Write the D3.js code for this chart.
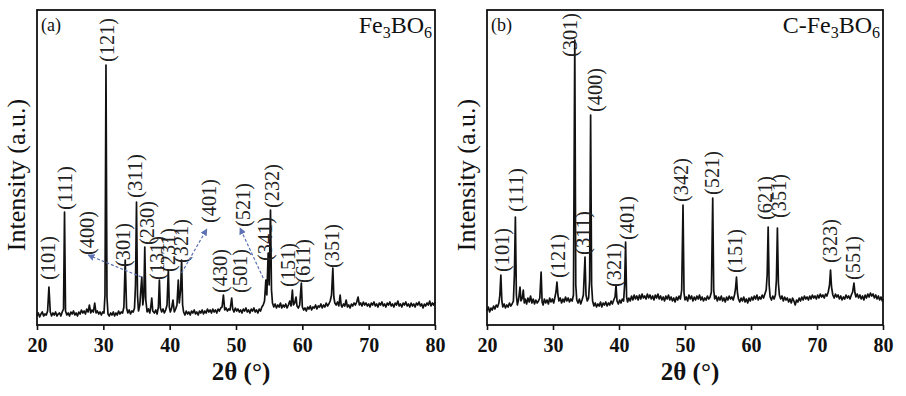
<!DOCTYPE html>
<html>
<head>
<meta charset="utf-8">
<script src="https://cdn.jsdelivr.net/npm/d3@7"></script>
<style>
    body { margin: 0; background: #fff; }
    svg text { font-family: "Liberation Serif", "Times New Roman", serif; }
</style>
</head>
<body>
<div id="chart"></div>
<script>

// XRD pattern, [2theta, intensity]
var fe3bo6 = [
    [20.0, 9], [20.2, 12], [20.4, 8], [20.6, 11], [20.8, 13], [21.0, 9], [21.2, 11], [21.4, 10], [21.6, 14], [21.8, 38],
    [22.0, 13], [22.2, 9], [22.4, 12], [22.6, 10], [22.8, 13], [23.0, 9], [23.2, 11], [23.4, 12], [23.6, 9], [23.8, 13],
    [24.0, 16], [24.15, 113], [24.3, 14], [24.5, 10], [24.7, 12], [24.9, 9], [25.1, 13], [25.3, 11], [25.5, 14], [25.7, 10],
    [25.9, 12], [26.1, 9], [26.3, 13], [26.5, 11], [26.7, 15], [26.9, 12], [27.1, 14], [27.3, 11], [27.5, 16], [27.7, 13],
    [27.9, 20], [28.1, 12], [28.3, 15], [28.5, 13], [28.7, 22], [28.9, 12], [29.1, 14], [29.3, 11], [29.5, 13], [29.7, 10],
    [29.9, 13], [30.1, 12], [30.25, 30], [30.4, 260], [30.55, 28], [30.7, 11], [30.9, 9], [31.1, 12], [31.3, 10], [31.5, 13],
    [31.7, 9], [31.9, 12], [32.1, 10], [32.3, 14], [32.5, 11], [32.7, 13], [32.9, 12], [33.1, 18], [33.3, 65], [33.5, 17],
    [33.7, 12], [33.9, 15], [34.1, 11], [34.3, 14], [34.5, 13], [34.7, 17], [34.85, 40], [35.0, 123], [35.15, 30], [35.3, 14],
    [35.5, 20], [35.65, 35], [35.8, 48], [35.95, 20], [36.1, 28], [36.25, 78], [36.4, 25], [36.6, 13], [36.8, 16], [37.0, 12],
    [37.15, 18], [37.3, 27], [37.45, 14], [37.7, 12], [37.9, 15], [38.1, 11], [38.3, 18], [38.45, 45], [38.6, 17], [38.8, 13],
    [39.0, 16], [39.2, 12], [39.4, 15], [39.6, 20], [39.8, 55], [39.95, 18], [40.1, 13], [40.3, 17], [40.5, 25], [40.7, 13],
    [40.9, 16], [41.1, 20], [41.3, 45], [41.45, 22], [41.65, 35], [41.8, 65], [41.95, 20], [42.1, 13], [42.3, 10], [42.5, 14],
    [42.7, 11], [42.9, 13], [43.1, 10], [43.3, 14], [43.5, 12], [43.7, 15], [43.9, 11], [44.1, 13], [44.3, 10], [44.5, 14],
    [44.7, 12], [44.9, 15], [45.1, 11], [45.3, 14], [45.5, 12], [45.7, 16], [45.9, 13], [46.1, 15], [46.3, 12], [46.5, 16],
    [46.7, 13], [46.9, 15], [47.1, 12], [47.3, 16], [47.5, 14], [47.7, 17], [47.9, 18], [48.1, 30], [48.3, 15], [48.5, 17],
    [48.7, 14], [48.9, 16], [49.1, 15], [49.35, 27], [49.5, 16], [49.7, 13], [49.9, 17], [50.1, 14], [50.3, 16], [50.5, 13],
    [50.7, 15], [50.9, 12], [51.1, 16], [51.3, 14], [51.5, 17], [51.7, 13], [51.9, 15], [52.1, 12], [52.3, 16], [52.5, 14],
    [52.7, 17], [52.9, 13], [53.1, 15], [53.3, 12], [53.5, 16], [53.7, 14], [53.9, 18], [54.1, 20], [54.3, 24], [54.5, 45],
    [54.65, 30], [54.85, 72], [55.0, 40], [55.2, 115], [55.35, 35], [55.5, 22], [55.7, 18], [55.9, 21], [56.1, 17], [56.3, 20],
    [56.5, 18], [56.7, 22], [56.9, 17], [57.1, 20], [57.3, 18], [57.5, 21], [57.7, 17], [57.9, 20], [58.1, 24], [58.3, 19],
    [58.5, 35], [58.65, 20], [58.85, 22], [59.05, 28], [59.2, 19], [59.4, 17], [59.6, 20], [59.85, 42], [60.0, 18], [60.2, 15],
    [60.4, 17], [60.6, 14], [60.8, 18], [61.0, 16], [61.2, 19], [61.4, 15], [61.6, 18], [61.8, 17], [62.0, 20], [62.2, 16],
    [62.4, 19], [62.6, 18], [62.8, 21], [63.0, 17], [63.2, 20], [63.4, 18], [63.6, 22], [63.8, 19], [64.0, 21], [64.2, 24],
    [64.4, 30], [64.6, 57], [64.75, 28], [64.9, 22], [65.1, 20], [65.3, 23], [65.5, 19], [65.7, 30], [65.85, 20], [66.0, 18],
    [66.2, 21], [66.4, 19], [66.6, 25], [66.8, 18], [67.0, 20], [67.2, 17], [67.4, 21], [67.6, 19], [67.8, 22], [68.0, 20],
    [68.2, 23], [68.4, 28], [68.6, 20], [68.8, 22], [69.0, 19], [69.2, 23], [69.4, 20], [69.6, 22], [69.8, 19], [70.0, 21],
    [70.2, 18], [70.4, 22], [70.6, 20], [70.8, 23], [71.0, 19], [71.2, 21], [71.4, 18], [71.6, 22], [71.8, 20], [72.0, 23],
    [72.2, 19], [72.4, 21], [72.6, 18], [72.8, 22], [73.0, 20], [73.2, 23], [73.4, 19], [73.6, 21], [73.8, 18], [74.0, 22],
    [74.2, 20], [74.4, 24], [74.6, 19], [74.8, 21], [75.0, 18], [75.2, 22], [75.4, 20], [75.6, 23], [75.8, 19], [76.0, 21],
    [76.2, 18], [76.4, 22], [76.6, 19], [76.8, 21], [77.0, 18], [77.2, 22], [77.4, 20], [77.6, 23], [77.8, 19], [78.0, 21],
    [78.2, 17], [78.4, 21], [78.6, 19], [78.8, 22], [79.0, 20], [79.2, 24], [79.4, 19], [79.6, 22], [79.8, 20], [80.0, 23]
];

var cfe3bo6 = [
    [20.0, 14], [20.2, 18], [20.4, 13], [20.6, 17], [20.8, 15], [21.0, 19], [21.2, 16], [21.4, 20], [21.6, 18], [21.8, 22],
    [21.95, 30], [22.1, 50], [22.25, 24], [22.4, 18], [22.6, 21], [22.8, 17], [23.0, 20], [23.2, 18], [23.4, 22], [23.6, 19],
    [23.8, 21], [24.0, 24], [24.15, 50], [24.3, 108], [24.45, 30], [24.6, 20], [24.8, 26], [25.0, 38], [25.15, 24], [25.35, 27],
    [25.5, 35], [25.65, 22], [25.8, 26], [26.0, 21], [26.2, 27], [26.4, 23], [26.6, 29], [26.8, 22], [27.0, 26], [27.2, 21],
    [27.4, 25], [27.6, 22], [27.8, 24], [28.0, 27], [28.2, 53], [28.35, 23], [28.5, 20], [28.7, 26], [28.9, 22], [29.1, 25],
    [29.3, 21], [29.5, 27], [29.7, 23], [29.9, 26], [30.1, 22], [30.3, 28], [30.45, 33], [30.6, 43], [30.75, 30], [30.9, 24],
    [31.1, 27], [31.3, 22], [31.5, 26], [31.7, 23], [31.9, 28], [32.1, 24], [32.3, 27], [32.5, 23], [32.7, 26], [32.9, 24],
    [33.1, 30], [33.3, 285], [33.45, 40], [33.6, 25], [33.8, 22], [34.0, 26], [34.2, 21], [34.4, 25], [34.6, 30], [34.85, 68],
    [35.0, 30], [35.2, 24], [35.4, 27], [35.55, 45], [35.7, 210], [35.85, 40], [36.0, 24], [36.2, 19], [36.4, 22], [36.6, 18],
    [36.8, 21], [37.0, 19], [37.2, 23], [37.4, 18], [37.6, 22], [37.8, 20], [38.0, 23], [38.2, 19], [38.4, 22], [38.6, 20],
    [38.8, 24], [39.0, 21], [39.2, 25], [39.4, 28], [39.55, 40], [39.7, 24], [39.9, 21], [40.1, 25], [40.3, 22], [40.5, 26],
    [40.7, 24], [40.85, 40], [41.0, 83], [41.15, 28], [41.3, 23], [41.5, 27], [41.7, 24], [41.9, 29], [42.1, 25], [42.3, 30],
    [42.5, 26], [42.7, 29], [42.9, 25], [43.1, 30], [43.3, 26], [43.5, 31], [43.7, 27], [43.9, 29], [44.1, 26], [44.3, 31],
    [44.5, 27], [44.7, 30], [44.9, 26], [45.1, 29], [45.3, 25], [45.5, 30], [45.7, 27], [45.9, 31], [46.1, 26], [46.3, 29],
    [46.5, 25], [46.7, 28], [46.9, 24], [47.1, 29], [47.3, 26], [47.5, 30], [47.7, 25], [47.9, 28], [48.1, 24], [48.3, 27],
    [48.5, 23], [48.7, 28], [48.9, 25], [49.1, 29], [49.3, 26], [49.5, 35], [49.7, 120], [49.85, 32], [50.0, 25], [50.2, 28],
    [50.4, 24], [50.6, 30], [50.8, 26], [51.0, 29], [51.2, 24], [51.4, 28], [51.6, 25], [51.8, 29], [52.0, 26], [52.2, 30],
    [52.4, 25], [52.6, 28], [52.8, 24], [53.0, 27], [53.2, 25], [53.4, 29], [53.6, 26], [53.8, 28], [54.0, 33], [54.2, 127],
    [54.35, 35], [54.5, 26], [54.7, 29], [54.9, 24], [55.1, 28], [55.3, 25], [55.5, 29], [55.7, 24], [55.9, 27], [56.1, 23],
    [56.3, 28], [56.5, 25], [56.7, 29], [56.9, 26], [57.1, 28], [57.3, 25], [57.5, 30], [57.65, 36], [57.8, 48], [57.95, 32],
    [58.1, 26], [58.3, 23], [58.5, 27], [58.7, 24], [58.9, 28], [59.1, 23], [59.3, 26], [59.5, 22], [59.7, 27], [59.9, 24],
    [60.1, 28], [60.3, 25], [60.5, 29], [60.7, 26], [60.9, 30], [61.1, 25], [61.3, 28], [61.5, 26], [61.7, 30], [61.9, 27],
    [62.1, 31], [62.3, 35], [62.45, 50], [62.6, 98], [62.75, 40], [62.9, 28], [63.1, 25], [63.3, 29], [63.5, 26], [63.7, 30],
    [63.85, 45], [64.0, 97], [64.15, 42], [64.3, 30], [64.5, 26], [64.7, 29], [64.9, 24], [65.1, 28], [65.3, 25], [65.5, 27],
    [65.7, 23], [65.9, 26], [66.1, 22], [66.3, 27], [66.5, 24], [66.7, 20], [66.9, 25], [67.1, 23], [67.3, 27], [67.5, 24],
    [67.7, 28], [67.9, 25], [68.1, 29], [68.3, 26], [68.5, 28], [68.7, 25], [68.9, 29], [69.1, 26], [69.3, 30], [69.5, 27],
    [69.7, 29], [69.9, 26], [70.1, 30], [70.3, 27], [70.5, 31], [70.7, 28], [70.9, 30], [71.1, 27], [71.3, 31], [71.5, 29],
    [71.7, 33], [71.9, 40], [72.05, 55], [72.2, 38], [72.4, 30], [72.6, 27], [72.8, 31], [73.0, 28], [73.2, 30], [73.4, 26],
    [73.6, 29], [73.8, 25], [74.0, 28], [74.2, 26], [74.4, 30], [74.6, 27], [74.8, 29], [75.0, 26], [75.2, 30], [75.4, 33],
    [75.6, 42], [75.75, 32], [75.9, 28], [76.1, 31], [76.3, 27], [76.5, 30], [76.7, 26], [76.9, 29], [77.1, 25], [77.3, 30],
    [77.5, 27], [77.7, 31], [77.9, 28], [78.1, 32], [78.3, 29], [78.5, 31], [78.7, 27], [78.9, 30], [79.1, 26], [79.3, 29],
    [79.5, 25], [79.7, 28], [79.9, 24], [80.0, 26]
];

// peak labels: [hkl, 2theta, intensity where the label starts]
var labelsA = [
    ["(101)", 21.7, 45], ["(111)", 24.2, 115], ["(400)", 27.5, 70], ["(121)", 30.55, 263],
    ["(301)", 33.0, 58], ["(311)", 34.8, 127], ["(230)", 36.55, 80], ["(131)", 38.05, 45],
    ["(231)", 39.8, 53], ["(321)", 41.65, 62], ["(401)", 45.9, 102], ["(430)", 47.6, 32],
    ["(501)", 50.6, 32], ["(521)", 51.0, 98], ["(341)", 54.4, 64], ["(232)", 55.5, 117],
    ["(151)", 57.9, 38], ["(611)", 60.1, 42], ["(351)", 64.4, 57]
];

var labelsB = [
    ["(101)", 22.2, 53], ["(111)", 24.4, 113], ["(121)", 30.7, 47], ["(301)", 32.6, 268],
    ["(311)", 34.55, 70], ["(400)", 36.35, 213], ["(321)", 39.25, 38], ["(401)", 41.2, 85],
    ["(342)", 49.4, 123], ["(521)", 54.1, 130], ["(151)", 57.6, 52], ["(621)", 62.1, 105],
    ["(351)", 64.2, 107], ["(323)", 72.0, 62], ["(551)", 75.45, 45]
];

// dashed pointers in (a): [from 2theta, from I, to 2theta, to I]
var arrowsA = [
    [35.75, 48, 27.7, 70],
    [41.8, 52, 45.6, 96],
    [54.1, 47, 50.6, 97]
];

var xTicks = [20, 30, 40, 50, 60, 70, 80];

var width = 906,
    height = 396,
    plotTop = 10,
    plotBottom = 325;

var y = d3.scaleLinear()
    .domain([0, 315])
    .range([plotBottom, plotTop]);

var svg = d3.select("#chart")
    .append("svg")
    .attr("width", width)
    .attr("height", height);

svg.append("defs").append("marker")
    .attr("id", "head")
    .attr("viewBox", "0 0 10 10")
    .attr("refX", 9)
    .attr("refY", 5)
    .attr("markerWidth", 7)
    .attr("markerHeight", 7)
    .attr("markerUnits", "userSpaceOnUse")
    .attr("orient", "auto")
    .append("path")
    .attr("d", "M0,0L10,5L0,10z")
    .attr("fill", "#5d72b4");

var panels = [
    {tag: "(a)", name: [["Fe", 0], ["3", 1], ["BO", 0], ["6", 1]], left: 37, right: 435,
        data: fe3bo6, labels: labelsA, arrows: arrowsA},
    {tag: "(b)", name: [["C-Fe", 0], ["3", 1], ["BO", 0], ["6", 1]], left: 487, right: 883,
        data: cfe3bo6, labels: labelsB, arrows: []}
];

panels.forEach(function (p) {

    var x = d3.scaleLinear()
        .domain([20, 80])
        .range([p.left, p.right]);

    var g = svg.append("g");

    var line = d3.line()
        .x(function (d) { return x(d[0]); })
        .y(function (d) { return y(d[1]); });

    g.append("path")
        .datum(p.data)
        .attr("d", line)
        .attr("fill", "none")
        .attr("stroke", "#111")
        .attr("stroke-width", 1.7)
        .attr("stroke-linejoin", "round");

    // hkl labels
    g.selectAll(".hkl")
        .data(p.labels)
        .enter().append("text")
        .attr("class", "hkl")
        .attr("transform", function (d) {
            return "translate(" + x(d[1]) + "," + y(d[2]) + ") rotate(-90)";
        })
        .attr("dy", "0.35em")
        .attr("textLength", 44)
        .attr("lengthAdjust", "spacingAndGlyphs")
        .style("font-size", "20px")
        .style("fill", "#222")
        .text(function (d) { return d[0]; });

    g.selectAll(".pointer")
        .data(p.arrows)
        .enter().append("line")
        .attr("class", "pointer")
        .attr("x1", function (d) { return x(d[0]); })
        .attr("y1", function (d) { return y(d[1]); })
        .attr("x2", function (d) { return x(d[2]); })
        .attr("y2", function (d) { return y(d[3]); })
        .attr("stroke", "#5d72b4")
        .attr("stroke-width", 1.2)
        .attr("stroke-dasharray", "3,2")
        .attr("marker-end", "url(#head)");

    // frame
    g.append("rect")
        .attr("x", p.left)
        .attr("y", plotTop)
        .attr("width", p.right - p.left)
        .attr("height", plotBottom - plotTop)
        .attr("fill", "none")
        .attr("stroke", "#111")
        .attr("stroke-width", 1.8);

    var axis = g.append("g")
        .attr("transform", "translate(0," + plotBottom + ")")
        .call(d3.axisBottom(x).tickValues(xTicks).tickSize(5).tickPadding(8));

    axis.select(".domain").remove();
    axis.selectAll("line").attr("stroke", "#111").attr("stroke-width", 1.6);
    axis.selectAll("text")
        .style("font-family", "'Liberation Serif', serif")
        .style("font-size", "20px")
        .style("font-weight", "bold")
        .style("fill", "#111");

    g.append("text")
        .attr("x", (p.left + p.right) / 2 + 5)
        .attr("y", 380)
        .attr("text-anchor", "middle")
        .style("font-size", "25px")
        .style("font-weight", "bold")
        .style("fill", "#111")
        .text("2θ (°)");

    g.append("text")
        .attr("transform", "translate(" + (p.left - 12) + ",175) rotate(-90)")
        .attr("text-anchor", "middle")
        .style("font-size", "26px")
        .style("fill", "#111")
        .text("Intensity (a.u.)");

    g.append("text")
        .attr("x", p.left + 4)
        .attr("y", 31)
        .style("font-size", "18px")
        .style("fill", "#111")
        .text(p.tag);

    var name = g.append("text")
        .attr("x", p.right - 3)
        .attr("y", 33)
        .attr("text-anchor", "end")
        .style("font-size", "24px")
        .style("fill", "#111");

    name.selectAll("tspan")
        .data(p.name)
        .enter().append("tspan")
        .attr("dy", function (d, i) {
            if (i === 0) return 0;
            return d[1] ? 5 : -5;
        })
        .style("font-size", function (d) { return d[1] ? "16px" : "24px"; })
        .text(function (d) { return d[0]; });
});

</script>
</body>
</html>
